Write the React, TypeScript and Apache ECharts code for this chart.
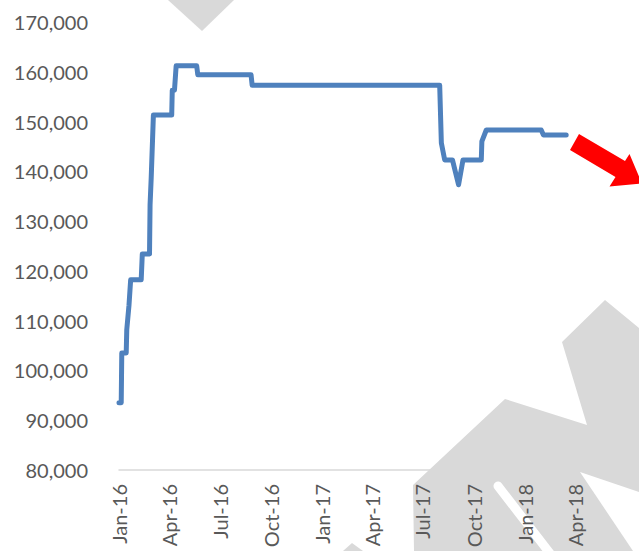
import React, { useEffect, useRef } from "react";
import * as echarts from "echarts";

// Step-line data (date, value)
const dates = [
  "2016-01-01", "2016-01-05", "2016-01-06", "2016-01-14", "2016-01-15", "2016-01-19",
  "2016-01-22", "2016-02-10", "2016-02-12", "2016-02-25", "2016-02-26", "2016-02-28",
  "2016-03-03", "2016-04-05", "2016-04-06", "2016-04-10", "2016-04-13", "2016-05-20",
  "2016-05-22", "2016-08-26", "2016-08-28", "2017-07-28", "2017-08-01", "2017-08-04",
  "2017-08-10", "2017-08-24", "2017-09-04", "2017-09-12", "2017-10-15", "2017-10-16",
  "2017-10-24", "2018-01-31", "2018-02-04", "2018-03-17",
];
const values = [
  93500, 93500, 103500, 103500, 108200, 113100,
  118200, 118200, 123400, 123400, 133300, 138600,
  151300, 151300, 156300, 156300, 161200, 161200,
  159400, 159400, 157300, 157300, 157300, 145700,
  142300, 142300, 137300, 142300, 142300, 146000,
  148300, 148300, 147300, 147300,
];

const quarterStarts = [
  "2016-01-01", "2016-04-01", "2016-07-01", "2016-10-01", "2017-01-01",
  "2017-04-01", "2017-07-01", "2017-10-01", "2018-01-01", "2018-04-01",
];
const quarterLabels = [
  "Jan-16", "Apr-16", "Jul-16", "Oct-16", "Jan-17",
  "Apr-17", "Jul-17", "Oct-17", "Jan-18", "Apr-18",
];

const yMin = 80000;
const yMax = 170000;
const yStep = 10000;

const toTs = (s: string) => {
  const [y, m, d] = s.split("-").map(Number);
  return Date.UTC(y, m - 1, d);
};

export default function App() {
  const ref = useRef<HTMLDivElement>(null);

  useEffect(() => {
    document.body.style.margin = "0";
    const chart = echarts.init(ref.current!, null, { renderer: "svg" });
    const ticks = quarterStarts.map(toTs);
    const gray = "#d9d9d9";
    const font = "Lato, 'Open Sans', sans-serif";

    chart.setOption({
      animation: false,
      backgroundColor: "#ffffff",
      grid: {
        left: 119,
        right: 14,
        top: 22,
        bottom: 81,
        containLabel: false,
        outerBoundsMode: "none",
      },
      xAxis: {
        type: "value",
        min: toTs("2016-01-01"),
        max: toTs("2018-07-01"),
        axisLine: { show: true, lineStyle: { color: gray, width: 1.5 } },
        axisTick: { show: false },
        splitLine: { show: false },
        axisLabel: {
          customValues: ticks,
          rotate: 90,
          margin: 14,
          color: "#595959",
          fontSize: 20,
          fontFamily: font,
          hideOverlap: false,
          showMinLabel: true,
          showMaxLabel: true,
          formatter: (v: number) => {
            let best = -1;
            let bd = Infinity;
            ticks.forEach((t, i) => {
              const d = Math.abs(t - v);
              if (d < bd) { bd = d; best = i; }
            });
            return bd < 86400000 * 5 ? quarterLabels[best] : "";
          },
        },
      },
      yAxis: {
        type: "value",
        min: yMin,
        max: yMax,
        interval: yStep,
        axisLine: { show: false },
        axisTick: { show: false },
        splitLine: { show: false },
        axisLabel: {
          margin: 31,
          color: "#595959",
          fontSize: 20,
          fontFamily: font,
          formatter: (v: number) => v.toLocaleString("en-US"),
        },
      },
      graphic: [
        {
          type: "polygon",
          z: -10,
          silent: true,
          shape: { points: [[168, 0], [234, 0], [202, 31]] },
          style: { fill: gray },
        },
        {
          type: "polygon",
          z: -10,
          silent: true,
          shape: {
            points: [
              [414, 551], [413, 485], [505, 399], [587, 425], [562, 342],
              [605, 300], [639, 328], [639, 551],
            ],
          },
          style: { fill: gray },
        },
        {
          type: "polygon",
          z: -10,
          silent: true,
          shape: { points: [[343, 551], [352, 543], [363, 551]] },
          style: { fill: gray },
        },
        {
          type: "line",
          z: -9,
          silent: true,
          shape: { x1: 498, y1: 486, x2: 552, y2: 556 },
          style: { stroke: "#ffffff", lineWidth: 9, lineCap: "round" },
        },
        {
          type: "polygon",
          z: -9,
          silent: true,
          shape: { points: [[580, 472], [639, 492], [639, 551], [633, 551]] },
          style: { fill: "#ffffff" },
        },
        {
          type: "polygon",
          z: 20,
          silent: true,
          shape: {
            points: [
              [579, 134], [625, 161], [629.5, 154], [642, 183.5],
              [609.5, 186.5], [615.5, 177], [570, 150],
            ],
          },
          style: { fill: "#ff0000" },
        },
      ],
      series: [
        {
          type: "line",
          data: dates.map((d, i) => [toTs(d), values[i]]),
          showSymbol: false,
          symbol: "none",
          lineStyle: { color: "#4f81bd", width: 5, cap: "round", join: "round" },
          z: 5,
        },
      ],
    });

    return () => chart.dispose();
  }, []);

  return (
    <div
      ref={ref}
      style={{ width: 639, height: 551, position: "absolute", left: 0, top: 0 }}
    />
  );
}
